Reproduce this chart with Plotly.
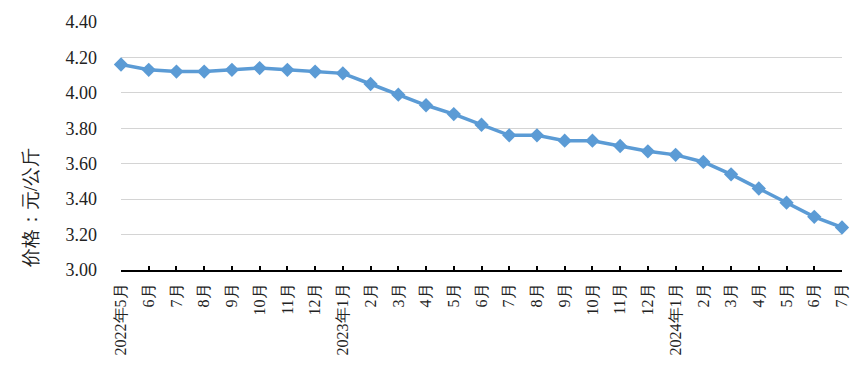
import plotly.graph_objects as go

months = ["2022年5月", "6月", "7月", "8月", "9月", "10月", "11月", "12月",
          "2023年1月", "2月", "3月", "4月", "5月", "6月", "7月", "8月", "9月", "10月", "11月", "12月",
          "2024年1月", "2月", "3月", "4月", "5月", "6月", "7月"]
prices = [4.16, 4.13, 4.12, 4.12, 4.13, 4.14, 4.13, 4.12,
          4.11, 4.05, 3.99, 3.93, 3.88, 3.82, 3.76, 3.76, 3.73, 3.73, 3.70, 3.67,
          3.65, 3.61, 3.54, 3.46, 3.38, 3.30, 3.24]
y_ticks = [3.00, 3.20, 3.40, 3.60, 3.80, 4.00, 4.20, 4.40]
y_title = "价格：元/公斤"

FONT = "Liberation Serif"
TXT = "#222222"

fig = go.Figure()
fig.add_trace(go.Scatter(
    x=list(range(len(months))), y=prices, mode="lines+markers",
    line=dict(color="#5B9BD5", width=3.5),
    marker=dict(symbol="diamond", size=11, color="#5B9BD5"),
    cliponaxis=False, showlegend=False,
))

fig.update_layout(
    width=857, height=371,
    margin=dict(l=113, r=23, t=14, b=109, autoexpand=False),
    paper_bgcolor="white", plot_bgcolor="white",
    font=dict(family=FONT, color=TXT),
    xaxis=dict(
        range=[0, len(months) - 1],
        tickmode="array", tickvals=list(range(len(months))), ticktext=months,
        tickangle=-90, ticks="inside", ticklen=4, tickwidth=1.5, tickcolor="black",
        showline=True, linecolor="black", linewidth=2,
        showgrid=False, zeroline=False, automargin=False,
        tickfont=dict(family=FONT, size=16, color=TXT),
        ticklabelstandoff=5,
    ),
    yaxis=dict(
        range=[3.0, 4.4],
        tickmode="array", tickvals=y_ticks, tickformat=".2f",
        showgrid=True, gridcolor="#d4d4d4", gridwidth=1,
        showline=False, zeroline=False, ticks="", automargin=False,
        tickfont=dict(family=FONT, size=18, color=TXT),
        ticklabelstandoff=23,
    ),
    annotations=[dict(
        text=y_title, xref="paper", yref="paper", x=-0.126, y=0.25,
        showarrow=False, textangle=-90, xanchor="center", yanchor="middle",
        font=dict(family=FONT, size=19, color=TXT),
    )],
)

fig.write_html("out.html")
